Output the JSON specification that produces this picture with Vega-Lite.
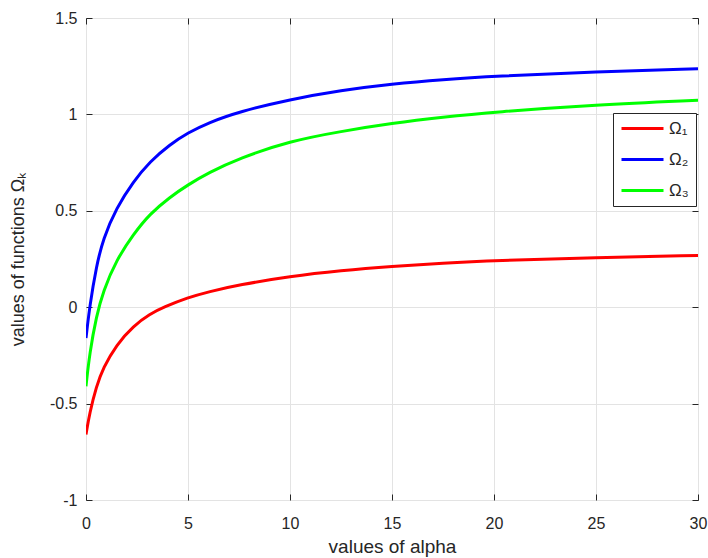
{
  "$schema": "https://vega.github.io/schema/vega-lite/v6.json",
  "width": 612,
  "height": 482,
  "autosize": {"type": "none"},
  "padding": {"left": 86, "top": 18, "right": 10, "bottom": 58},
  "background": "white",
  "config": {
    "view": {"stroke": "#262626", "strokeWidth": 1},
    "font": "Liberation Sans",
    "axis": {
      "labelFont": "Liberation Sans",
      "titleFont": "Liberation Sans",
      "labelFontSize": 16,
      "labelColor": "#262626",
      "titleColor": "#262626",
      "titleFontSize": 19,
      "titleFontWeight": "normal",
      "tickColor": "#262626",
      "gridColor": "#e3e3e3",
      "domain": false,
      "labelFlush": false,
      "labelOverlap": false,
      "labelBound": false
    }
  },
  "data": {
    "values": [
      {"a": 0, "v": -0.66, "s": "Ω₁"},
      {"a": 0.18, "v": -0.548, "s": "Ω₁"},
      {"a": 0.51, "v": -0.41, "s": "Ω₁"},
      {"a": 0.84, "v": -0.315, "s": "Ω₁"},
      {"a": 1.49, "v": -0.195, "s": "Ω₁"},
      {"a": 2.32, "v": -0.097, "s": "Ω₁"},
      {"a": 3.14, "v": -0.035, "s": "Ω₁"},
      {"a": 3.8, "v": 0.0, "s": "Ω₁"},
      {"a": 5, "v": 0.05, "s": "Ω₁"},
      {"a": 6, "v": 0.08, "s": "Ω₁"},
      {"a": 7.5, "v": 0.116, "s": "Ω₁"},
      {"a": 10, "v": 0.16, "s": "Ω₁"},
      {"a": 12.5, "v": 0.19, "s": "Ω₁"},
      {"a": 15, "v": 0.212, "s": "Ω₁"},
      {"a": 17.5, "v": 0.229, "s": "Ω₁"},
      {"a": 20, "v": 0.242, "s": "Ω₁"},
      {"a": 25, "v": 0.258, "s": "Ω₁"},
      {"a": 30, "v": 0.268, "s": "Ω₁"},
      {"a": 0, "v": -0.16, "s": "Ω₂"},
      {"a": 0.18, "v": 0.005, "s": "Ω₂"},
      {"a": 0.51, "v": 0.213, "s": "Ω₂"},
      {"a": 0.84, "v": 0.355, "s": "Ω₂"},
      {"a": 1.49, "v": 0.515, "s": "Ω₂"},
      {"a": 2.32, "v": 0.652, "s": "Ω₂"},
      {"a": 3.14, "v": 0.756, "s": "Ω₂"},
      {"a": 4.1, "v": 0.843, "s": "Ω₂"},
      {"a": 5, "v": 0.905, "s": "Ω₂"},
      {"a": 6, "v": 0.957, "s": "Ω₂"},
      {"a": 7.5, "v": 1.014, "s": "Ω₂"},
      {"a": 10, "v": 1.078, "s": "Ω₂"},
      {"a": 12.5, "v": 1.125, "s": "Ω₂"},
      {"a": 15, "v": 1.158, "s": "Ω₂"},
      {"a": 17.5, "v": 1.181, "s": "Ω₂"},
      {"a": 20, "v": 1.198, "s": "Ω₂"},
      {"a": 25, "v": 1.221, "s": "Ω₂"},
      {"a": 30, "v": 1.237, "s": "Ω₂"},
      {"a": 0, "v": -0.41, "s": "Ω₃"},
      {"a": 0.18, "v": -0.237, "s": "Ω₃"},
      {"a": 0.51, "v": -0.047, "s": "Ω₃"},
      {"a": 0.84, "v": 0.083, "s": "Ω₃"},
      {"a": 1.49, "v": 0.245, "s": "Ω₃"},
      {"a": 2.32, "v": 0.378, "s": "Ω₃"},
      {"a": 3.14, "v": 0.485, "s": "Ω₃"},
      {"a": 4.1, "v": 0.57, "s": "Ω₃"},
      {"a": 5, "v": 0.635, "s": "Ω₃"},
      {"a": 6, "v": 0.697, "s": "Ω₃"},
      {"a": 7.5, "v": 0.772, "s": "Ω₃"},
      {"a": 10, "v": 0.862, "s": "Ω₃"},
      {"a": 12.5, "v": 0.912, "s": "Ω₃"},
      {"a": 15, "v": 0.954, "s": "Ω₃"},
      {"a": 17.5, "v": 0.986, "s": "Ω₃"},
      {"a": 20, "v": 1.012, "s": "Ω₃"},
      {"a": 25, "v": 1.05, "s": "Ω₃"},
      {"a": 30, "v": 1.073, "s": "Ω₃"}
    ]
  },
  "layer": [
    {
      "mark": {"type": "line", "strokeWidth": 3, "interpolate": "basis", "clip": true},
      "encoding": {
        "x": {
          "field": "a", "type": "quantitative",
          "scale": {"domain": [0, 30], "nice": false, "zero": false},
          "axis": {
            "values": [0, 5, 10, 15, 20, 25, 30],
            "grid": true,
            "tickSize": -6,
            "labelPadding": 21,
            "labelExpr": "'' + datum.value",
            "title": "values of alpha",
            "titlePadding": 6
          }
        },
        "y": {
          "field": "v", "type": "quantitative",
          "scale": {"domain": [-1, 1.5], "nice": false, "zero": false},
          "axis": {
            "values": [-1, -0.5, 0, 0.5, 1, 1.5],
            "grid": true,
            "tickSize": -6,
            "labelPadding": 15,
            "labelExpr": "'' + datum.value",
            "title": "values of functions Ωₖ",
            "titleFontSize": 18,
            "titlePadding": 22
          }
        },
        "color": {
          "field": "s", "type": "nominal",
          "scale": {"domain": ["Ω₁", "Ω₂", "Ω₃"], "range": ["#ff0000", "#0000ff", "#00ff00"]},
          "legend": {
            "orient": "none",
            "legendX": 527,
            "legendY": 95,
            "title": null,
            "strokeColor": "#262626",
            "fillColor": "white",
            "padding": 7,
            "symbolType": "M-1,0H5",
            "symbolSize": 196,
            "symbolStrokeWidth": 3,
            "labelOffset": 32,
            "labelFontSize": 17,
            "labelFont": "Liberation Sans",
            "labelColor": "#262626",
            "rowPadding": 13
          }
        }
      }
    },
    {
      "mark": {"type": "line", "opacity": 0},
      "encoding": {
        "x": {
          "field": "a", "type": "quantitative",
          "scale": {"domain": [0, 30], "nice": false, "zero": false},
          "axis": {"orient": "top", "values": [0, 5, 10, 15, 20, 25, 30], "grid": false, "labels": false, "title": null, "tickSize": -6}
        },
        "y": {
          "field": "v", "type": "quantitative",
          "scale": {"domain": [-1, 1.5], "nice": false, "zero": false},
          "axis": {"orient": "right", "values": [-1, -0.5, 0, 0.5, 1, 1.5], "grid": false, "labels": false, "title": null, "tickSize": -6}
        },
        "detail": {"field": "s", "type": "nominal"}
      }
    }
  ],
  "resolve": {"axis": {"x": "independent", "y": "independent"}}
}
